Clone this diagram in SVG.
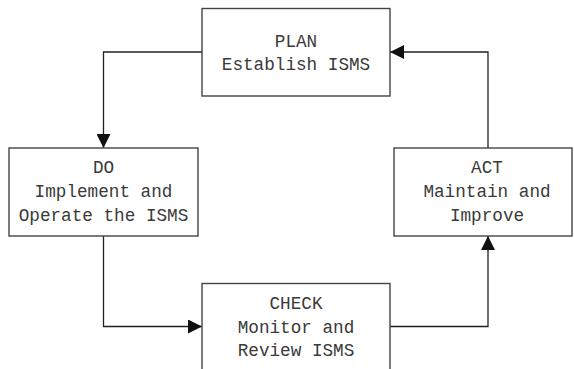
<svg xmlns="http://www.w3.org/2000/svg" width="574" height="369" viewBox="0 0 574 369">
<style>
.box{fill:#fff;stroke:#444;stroke-width:1.4}
.t{font-family:"Liberation Mono","DejaVu Sans Mono",monospace;font-size:19px;fill:#3a3a3a;text-anchor:middle}
.c{fill:none;stroke:#222;stroke-width:1.3}
</style>
<defs>
<marker id="ah" markerUnits="userSpaceOnUse" markerWidth="16" markerHeight="14" refX="14" refY="7" orient="auto">
<path d="M0,0 L14,7 L0,14 Z" fill="#111"/>
</marker>
</defs>
<rect width="574" height="369" fill="#fff"/>
<g id="connectors">
<path class="c" d="M202,52 H103.5 V148" marker-end="url(#ah)"/>
<path class="c" d="M103.5,236 V326.5 H202" marker-end="url(#ah)"/>
<path class="c" d="M390,326.5 H488 V236" marker-end="url(#ah)"/>
<path class="c" d="M488,148 V52 H390" marker-end="url(#ah)"/>
</g>
<g id="plan">
<rect class="box" x="202" y="8.5" width="188" height="87.5"/>
<text class="t" x="296" y="46.7" textLength="42.4" lengthAdjust="spacingAndGlyphs">PLAN</text>
<text class="t" x="296" y="70" textLength="148.4" lengthAdjust="spacingAndGlyphs">Establish ISMS</text>
</g>
<g id="do">
<rect class="box" x="9" y="148" width="189" height="88"/>
<text class="t" x="103.5" y="173.3" textLength="21.2" lengthAdjust="spacingAndGlyphs">DO</text>
<text class="t" x="103.5" y="196.7" textLength="137.8" lengthAdjust="spacingAndGlyphs">Implement and</text>
<text class="t" x="103.5" y="220.7" textLength="169.6" lengthAdjust="spacingAndGlyphs">Operate the ISMS</text>
</g>
<g id="check">
<rect class="box" x="202" y="283.5" width="188" height="100"/>
<text class="t" x="296" y="309.3" textLength="53" lengthAdjust="spacingAndGlyphs">CHECK</text>
<text class="t" x="296" y="332.7" textLength="116.6" lengthAdjust="spacingAndGlyphs">Monitor and</text>
<text class="t" x="296" y="356" textLength="116.6" lengthAdjust="spacingAndGlyphs">Review ISMS</text>
</g>
<g id="act">
<rect class="box" x="394" y="148" width="178" height="88"/>
<text class="t" x="487" y="173.3" textLength="31.8" lengthAdjust="spacingAndGlyphs">ACT</text>
<text class="t" x="487" y="196.7" textLength="127.2" lengthAdjust="spacingAndGlyphs">Maintain and</text>
<text class="t" x="487" y="220.7" textLength="74.2" lengthAdjust="spacingAndGlyphs">Improve</text>
</g>
</svg>
